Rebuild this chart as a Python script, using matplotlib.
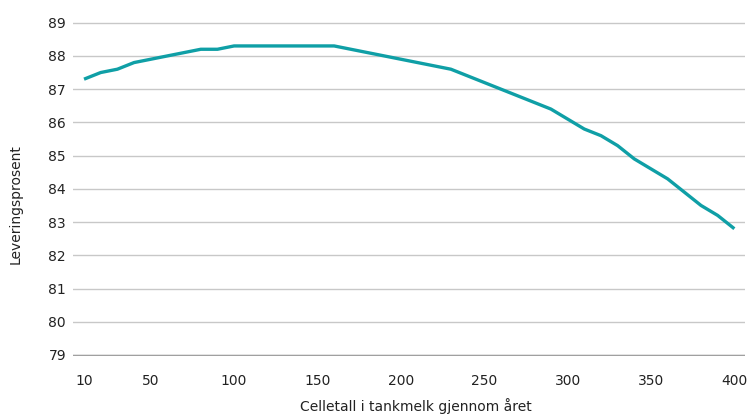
import matplotlib
matplotlib.use("Agg")
import matplotlib.pyplot as plt

# Leveringsprosent etter celletall
celletall = [10, 20, 30, 40, 50, 60, 70, 80, 90, 100, 110, 120, 130, 140, 150, 160,
             170, 180, 190, 200, 210, 220, 230, 240, 250, 260, 270, 280, 290, 300,
             310, 320, 330, 340, 350, 360, 370, 380, 390, 400]
leveringsprosent = [87.3, 87.5, 87.6, 87.8, 87.9, 88.0, 88.1, 88.2, 88.2, 88.3, 88.3, 88.3,
                    88.3, 88.3, 88.3, 88.3, 88.2, 88.1, 88.0, 87.9, 87.8, 87.7, 87.6, 87.4,
                    87.2, 87.0, 86.8, 86.6, 86.4, 86.1, 85.8, 85.6, 85.3, 84.9, 84.6, 84.3,
                    83.9, 83.5, 83.2, 82.8]
xticks = [10, 50, 100, 150, 200, 250, 300, 350, 400]
yticks = list(range(79, 90))

plt.rcParams['font.family'] = ['Liberation Sans Narrow', 'DejaVu Sans']
plt.rcParams['font.size'] = 10

fig = plt.figure(figsize=(7.49, 4.17), dpi=100)
ax = fig.add_axes([0.0975, 0.1463, 0.8972, 0.8009])

ax.plot(celletall, leveringsprosent, color="#0f9fa6", linewidth=2.4, solid_capstyle="butt", zorder=3)

ax.set_xlim(3.4, 406.4)
ax.set_ylim(78.97, 89.02)
ax.set_xticks(xticks)
ax.set_yticks(yticks)
ax.grid(axis="y", color="#c8c8c8", linewidth=1.0)
ax.axhline(79, color="#a0a0a0", linewidth=1.0, zorder=1)
ax.set_axisbelow(True)
for s in ax.spines.values():
    s.set_visible(False)
ax.tick_params(length=0, colors="#222222")
ax.tick_params(axis="x", pad=13)
ax.tick_params(axis="y", pad=5)

ax.set_xlabel("Celletall i tankmelk gjennom året", color="#222222", labelpad=9)
ax.set_ylabel("Leveringsprosent", color="#222222")
ax.yaxis.set_label_coords(-0.075, 0.455)
ax.xaxis.set_label_coords(0.51, -0.125)

fig.savefig("out.png", dpi=100)
